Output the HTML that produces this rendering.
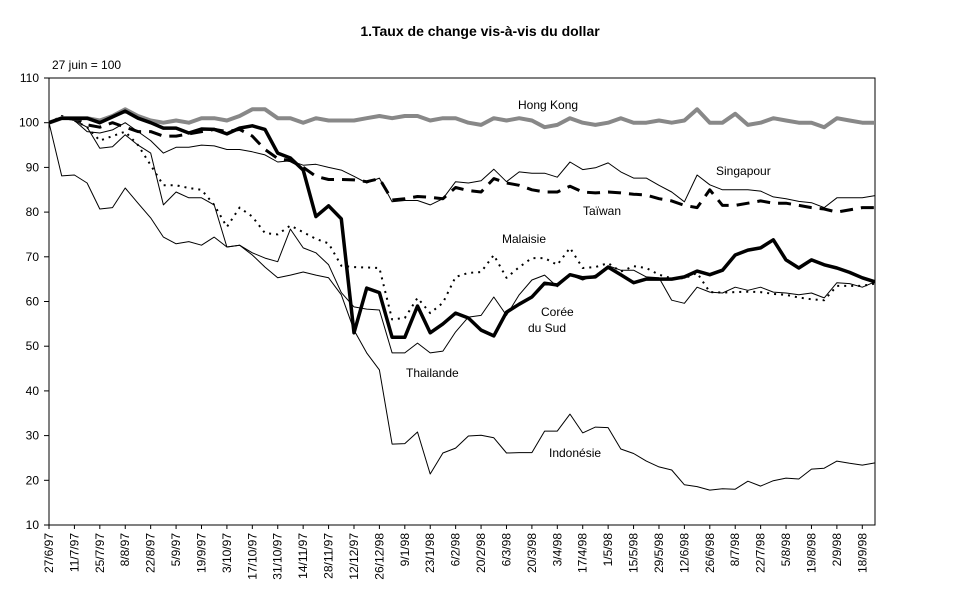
<!DOCTYPE html>
<html><head><meta charset="utf-8"><style>
html,body{margin:0;padding:0;background:#fff;width:970px;height:603px;overflow:hidden}
svg text{font-family:"Liberation Sans",Arial,sans-serif;fill:#000}
</style></head><body>
<svg id="chart" width="970" height="603" viewBox="0 0 970 603" xmlns="http://www.w3.org/2000/svg">
<text x="480" y="36" text-anchor="middle" font-size="14" font-weight="bold">1.Taux de change vis-à-vis du dollar</text>
<text x="52" y="69" font-size="12">27 juin = 100</text>
<rect x="49" y="78" width="826" height="447" fill="none" stroke="#000" stroke-width="1"/>
<g id="yaxis"></g>
<g id="xaxis"></g>
<g id="series"></g>
<g font-size="12">
<text x="518" y="109">Hong Kong</text>
<text x="716" y="175">Singapour</text>
<text x="583" y="215">Taïwan</text>
<text x="502" y="243">Malaisie</text>
<text x="541" y="316">Corée</text>
<text x="528" y="332">du Sud</text>
<text x="406" y="377">Thailande</text>
<text x="549" y="457">Indonésie</text>
</g>
</svg>
<script>
const xLabels=["27/6/97","11/7/97","25/7/97","8/8/97","22/8/97","5/9/97","19/9/97","3/10/97","17/10/97","31/10/97","14/11/97","28/11/97","12/12/97","26/12/98","9/1/98","23/1/98","6/2/98","20/2/98","6/3/98","20/3/98","3/4/98","17/4/98","1/5/98","15/5/98","29/5/98","12/6/98","26/6/98","8/7/98","22/7/98","5/8/98","19/8/98","2/9/98","18/9/98"];
const yTicks=[10,20,30,40,50,60,70,80,90,100,110];
const hongKong=[100,101,101,101,100.5,101.5,103,101.5,100.5,100,100.5,100,101,101,100.5,101.5,103,103,101,101,100,101,100.5,100.5,100.5,101,101.5,101,101.5,101.5,100.5,101,101,100,99.5,101,100.5,101,100.5,99,99.5,101,100,99.5,100,101,100,100,100.5,100,100.5,103,100,100,102,99.5,100,101,100.5,100,100,99,101,100.5,100,100];
const coree=[100,101,101,101,100,101.3,102.6,101,100,98.8,98.8,97.7,98.6,98.5,97.5,98.8,99.3,98.5,93.2,92.1,89.4,79,81.4,78.5,53,63,62,52,52,59,53,55,57.4,56.3,53.6,52.3,57.6,59.4,61,64.1,63.7,66,65.3,65.5,67.7,66,64.2,65,65,65,65.5,66.8,66,67,70.4,71.5,72,73.8,69.3,67.5,69.3,68.2,67.5,66.5,65.3,64.4];
const taiwan=[100,101,101,99.5,99,100,99,98,98,97,97,97.5,98,98.5,98,98.5,97,94,92,91.5,90,88,87.3,87.3,87.2,86.8,87.5,82.7,83,83.5,83.3,83,85.5,84.8,84.5,87.5,86.5,86,85,84.5,84.5,85.8,84.5,84.3,84.5,84.3,84,83.8,83,82.5,81.5,81,85,81.5,81.5,82,82.5,82,82,81.5,81,80.7,80,80.5,81,81];
const singapour=[100,101,100.5,98,97.7,98.4,100,98,96,93.2,94.5,94.5,95,94.8,94,94,93.5,92.8,91.2,91.5,90.5,90.7,90,89.4,88,86.5,87.6,82.3,82.6,82.6,81.6,83,86.8,86.5,87,89.6,86.8,89,88.7,88.7,87.8,91.2,89.5,89.9,91,89,87.6,87.6,86,84.5,82.3,88.3,86.1,85,85,85,84.7,83.4,83,82.4,82.1,81,83.2,83.2,83.2,83.7];
const malaisie=[100,101.5,100.5,99,96,97,98,95,90.5,86,86,85.4,85,81.6,76.7,81,79,75.3,75,77,75.5,74,73,68,67.7,67.6,67.5,56,56.3,60.8,57.4,59.7,65.5,66.4,66.6,70.4,65.3,67.7,69.7,69.7,68.2,72,67.5,67.7,68.6,66.7,67.9,67.5,66,65.2,65.2,66.4,62.1,62,62.1,62.2,62.1,61.7,61.5,60.9,60.5,60.3,63.5,63.5,63.5,64];
const thailande=[100,88.1,88.3,86.5,80.7,81,85.4,82,78.7,74.4,72.9,73.4,72.6,74.4,72.2,72.6,70.9,69.7,68.9,76.2,72,70.9,68.2,62,58.8,58.3,58.1,48.5,48.5,50.7,48.5,48.9,53.2,56.5,56.9,61,56.9,61.5,64.8,65.9,63.3,65.9,64.8,65.9,68,67,67,65.5,65.3,60.3,59.6,63.2,62.1,61.9,63.2,62.5,63.2,62.1,61.9,61.5,61.9,60.8,64.2,64,63.2,64.4];
const indonesie=[100,101,100.5,99,94.3,94.6,97.3,95,93.2,81.6,84.5,83.2,83.2,81.6,72.2,72.6,70.4,67.7,65.3,65.9,66.6,65.9,65.3,61.5,53.6,48.5,44.7,28.1,28.2,30.8,21.4,26.1,27.2,29.9,30.1,29.5,26.1,26.2,26.2,31,31,34.8,30.6,31.9,31.8,27,26,24.3,23,22.3,19,18.6,17.8,18.1,18,19.8,18.7,19.9,20.5,20.3,22.5,22.7,24.3,23.8,23.4,23.9];

const NS="http://www.w3.org/2000/svg";
const X0=49,X1=875,Y0=525,Y1=78,NPTS=66;
function xs(i){return X0+i*(X1-X0)/(NPTS-1);}
function ys(v){return Y0-(v-10)*(Y0-Y1)/100;}
function mk(tag,attrs,parent){const e=document.createElementNS(NS,tag);for(const k in attrs)e.setAttribute(k,attrs[k]);parent.appendChild(e);return e;}
const ya=document.getElementById('yaxis');
yTicks.forEach(v=>{
  const t=mk('line',{x1:X0-5,x2:X0,y1:ys(v),y2:ys(v),stroke:'#000'},ya);
  
  
  const l=mk('text',{x:39,y:ys(v)+4,'text-anchor':'end','font-size':'12'},ya);
  l.textContent=v;
  
  
});
const xa=document.getElementById('xaxis');
xLabels.forEach((s,k)=>{
  const x=xs(k*2);
  const t=mk('line',{x1:x,x2:x,y1:Y0,y2:Y0+4,stroke:'#000'},xa);
  
  
  const l=mk('text',{x:0,y:0,'text-anchor':'end','font-size':'12',transform:'translate('+(x+4)+','+(Y0+8)+') rotate(-90)'},xa);
  l.textContent=s;
  
  
});
const sg=document.getElementById('series');
function line(data,name,stroke,w,dash){
  const d=data.map((v,i)=>(i?'L':'M')+xs(i).toFixed(1)+' '+ys(v).toFixed(1)).join(' ');
  const p=mk('path',{d:d,fill:'none',stroke:stroke,'stroke-width':w,'stroke-linejoin':'round'},sg);
  if(dash)p.setAttribute('stroke-dasharray',dash);
  
  
}
line(indonesie,'line-indonesie','#000',1);
line(thailande,'line-thailande','#000',1);
line(singapour,'line-singapour','#000',1);
line(malaisie,'line-malaisie','#000',2,'2 5');
line(taiwan,'line-taiwan','#000',3,'13 8');
line(hongKong,'line-hong-kong','#888',4);
line(coree,'line-coree-du-sud','#000',3.5);
</script>
</body></html>
